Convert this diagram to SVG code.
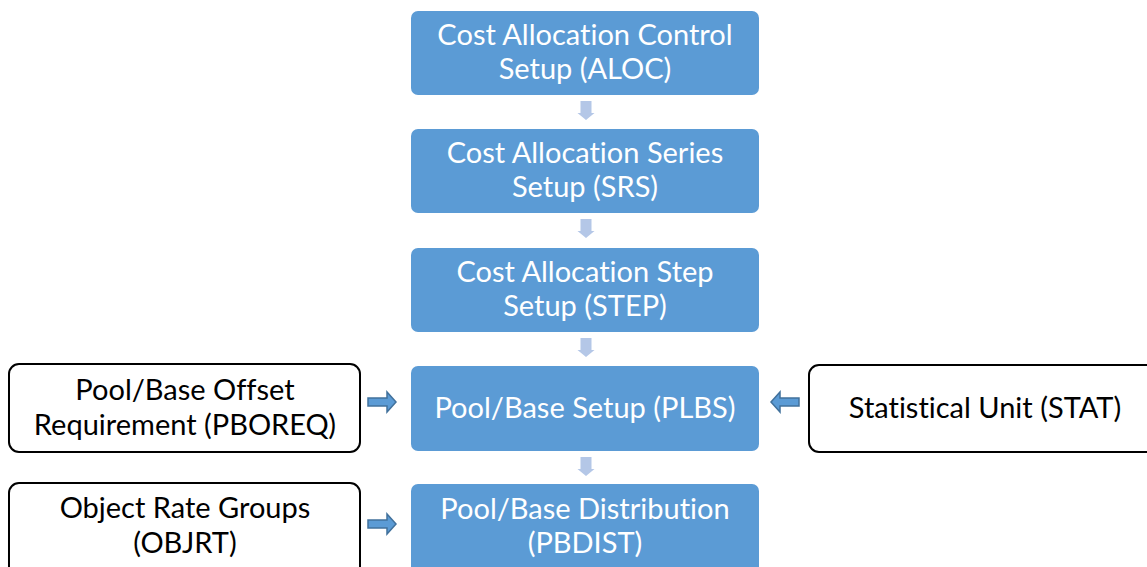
<svg xmlns="http://www.w3.org/2000/svg" width="1147" height="567" viewBox="0 0 1147 567">
  <style>
    .step { fill: #5b9bd5; }
    .input { fill: #ffffff; stroke: #000000; stroke-width: 2; }
    .lt, .dk { font-family: Lato, "Open Sans", "Liberation Sans", sans-serif; font-size: 29px; text-anchor: middle; font-variant-ligatures: none; font-feature-settings: "liga" 0; }
    .lt { fill: #ffffff; }
    .dk { fill: #000000; }
    .down { fill: #b4c7e7; }
    .side { fill: #5b9bd5; stroke: #41719c; stroke-width: 1.5; }
  </style>
  <rect width="1147" height="567" fill="#ffffff"/>

  <g id="aloc">
    <rect class="step" x="411" y="11" width="348" height="84" rx="7"/>
    <text class="lt" x="585" y="45">Cost Allocation Control</text>
    <text class="lt" x="585" y="79">Setup (ALOC)</text>
  </g>
  <g id="srs">
    <rect class="step" x="411" y="129" width="348" height="84" rx="7"/>
    <text class="lt" x="585" y="163">Cost Allocation Series</text>
    <text class="lt" x="585" y="197">Setup (SRS)</text>
  </g>
  <g id="step">
    <rect class="step" x="411" y="248" width="348" height="84" rx="7"/>
    <text class="lt" x="585" y="282">Cost Allocation Step</text>
    <text class="lt" x="585" y="316">Setup (STEP)</text>
  </g>
  <g id="plbs">
    <rect class="step" x="411" y="366" width="348" height="85" rx="7"/>
    <text class="lt" x="585" y="418">Pool/Base Setup (PLBS)</text>
  </g>
  <g id="pbdist">
    <rect class="step" x="411" y="484" width="348" height="100" rx="7"/>
    <text class="lt" x="585" y="519">Pool/Base Distribution</text>
    <text class="lt" x="585" y="553">(PBDIST)</text>
  </g>

  <g id="pboreq">
    <rect class="input" x="9" y="364" width="351" height="88" rx="10"/>
    <text class="dk" x="185" y="400">Pool/Base Offset</text>
    <text class="dk" x="185" y="435">Requirement (PBOREQ)</text>
  </g>
  <g id="stat">
    <rect class="input" x="809" y="365" width="360" height="87" rx="10"/>
    <text class="dk" x="985" y="418">Statistical Unit (STAT)</text>
  </g>
  <g id="objrt">
    <rect class="input" x="9" y="483" width="351" height="100" rx="10"/>
    <text class="dk" x="185" y="518">Object Rate Groups</text>
    <text class="dk" x="185" y="553">(OBJRT)</text>
  </g>

  <g id="connectors">
    <!-- block arrows down the main column -->
    <path class="down" d="M580.5,101 h11 v12 h3 l-8.5,7 l-8.5,-7 h3 z"/>
    <path class="down" d="M580.5,219 h11 v12 h3 l-8.5,7 l-8.5,-7 h3 z"/>
    <path class="down" d="M580.5,338 h11 v12 h3 l-8.5,7 l-8.5,-7 h3 z"/>
    <path class="down" d="M580.5,457 h11 v12 h3 l-8.5,7 l-8.5,-7 h3 z"/>
    <!-- side inputs -->
    <path class="side" d="M368,398 h19 v-6 l9,10 l-9,10 v-6 h-19 z"/>
    <path class="side" d="M368,520 h19 v-6 l9,10 l-9,10 v-6 h-19 z"/>
    <path class="side" d="M799,398 h-19 v-6 l-9,10 l9,10 v-6 h19 z"/>
  </g>
</svg>
